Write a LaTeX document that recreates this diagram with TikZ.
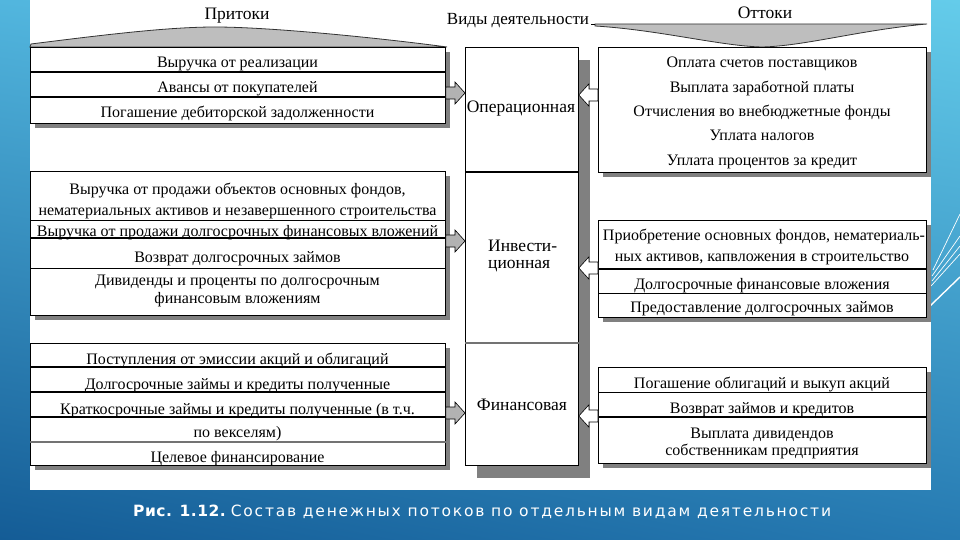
\documentclass[tikz,border=0pt]{standalone}
\usepackage{fontspec}
\setmainfont{Liberation Serif}
\newfontfamily\capfontbold[LetterSpace=3]{DejaVu Sans}
\newfontfamily\capfont[LetterSpace=11.5]{DejaVu Sans}
\usetikzlibrary{shadows,calc,shadings}
\definecolor{shad}{RGB}{128,128,128}
\definecolor{bgUL}{RGB}{82,182,222}
\definecolor{bgUR}{RGB}{100,204,234}
\definecolor{bgLL}{RGB}{20,92,150}
\definecolor{bgLR}{RGB}{38,122,178}
\definecolor{moundgray}{RGB}{190,190,190}
\tikzset{
  box/.style={draw=black, line width=0.8pt, fill=white, inner sep=0pt, anchor=north west},
  sh/.style={drop shadow={shadow xshift=#1, shadow yshift=-#1, fill=shad, opacity=1}},
  txt/.style={font=\fontsize{16}{17}\selectfont, inner sep=0pt, anchor=base},
  clabel/.style={font=\fontsize{17.5}{18}\selectfont, inner sep=0pt, anchor=base},
  head/.style={font=\fontsize{17.5}{18}\selectfont, inner sep=0pt, anchor=base},
  thickdiv/.style={line width=1.6pt},
  thindiv/.style={line width=0.8pt},
  graydiv/.style={line width=1.4pt, draw=black!55},
  garrow/.style={draw=black, line width=0.6pt, fill=black!30},
  warrow/.style={draw=black, line width=0.6pt, fill=white},
  mound/.style={fill=moundgray, draw=black!80, line width=0.8pt},
  deco/.style={draw=white, line width=0.7pt},
}
\newcommand\arrowR[3]{\draw[#3] let \p1=(#1), \p2=(#2), \n1={\x2-10pt} in
  (\x1,\y1+6pt) -- (\n1,\y1+6pt) -- (\n1,\y1+11pt) -- (\x2,\y1)
  -- (\n1,\y1-11pt) -- (\n1,\y1-6pt) -- (\x1,\y1-6pt) -- cycle;}
\newcommand\arrowL[3]{\draw[#3] let \p1=(#1), \p2=(#2), \n1={\x2+10pt} in
  (\x1,\y1+6pt) -- (\n1,\y1+6pt) -- (\n1,\y1+11pt) -- (\x2,\y1)
  -- (\n1,\y1-11pt) -- (\n1,\y1-6pt) -- (\x1,\y1-6pt) -- cycle;}
\begin{document}
\begin{tikzpicture}[x=1pt,y=-1pt]
\useasboundingbox (0,0) rectangle (960,540);
% background
\shade[upper left=bgUL, upper right=bgUR, lower left=bgLL, lower right=bgLR] (0,0) rectangle (960,540);
\fill[white] (30,0) rectangle (931,490);
% decorative lines
\draw[deco] (933,270) -- (960,214);
\draw[deco] (932,276) -- (960,236);
\draw[deco] (932,281) -- (960,246);
\draw[deco] (931,286) -- (960,254);
\draw[deco, line width=1.4pt] (930,306) -- (960,277);

% headers
\node[head] (inflow) at (237,20) {Притоки};
\node[head] (outflow) at (765,19) {Оттоки};
\node[head, font=\fontsize{17}{18}\selectfont] (kinds) at (518,25) {Виды деятельности};
\filldraw[mound] (30,47) -- (31,44) .. controls (110,34) and (170,27) .. (215,27)
  .. controls (270,27) and (380,38) .. (447,47) -- cycle;
\filldraw[mound] (595,24) -- (927,24) .. controls (860,30) and (805,46) .. (762,47)
  .. controls (720,46) and (660,30) .. (595,26) -- cycle;
\draw[line width=0.8pt] (kinds.base east) ++(2,-1) -- (595,24);

% boxes
\node[box, sh=5pt, minimum width=415pt, minimum height=76pt] (opL) at (30,47) {};
\node[box, sh=5pt, minimum width=415pt, minimum height=144pt] (invL) at (30,171) {};
\node[box, sh=5pt, minimum width=415pt, minimum height=122pt] (finL) at (30,343) {};
\node[box, sh=5pt, minimum width=328pt, minimum height=125pt] (opR) at (598,47) {};
\node[box, sh=5pt, minimum width=328pt, minimum height=97pt] (invR) at (598,220) {};
\node[box, sh=5pt, minimum width=328pt, minimum height=96pt] (finR) at (598,367) {};
\node[box, drop shadow={shadow xshift=12pt, shadow yshift=-13pt, fill=shad, opacity=1},
  minimum width=113pt, minimum height=418pt] (col) at (465,47) {};

% dividers
\draw[thickdiv] (opL.west |- 0,72) -- (opL.east |- 0,72);
\draw[thickdiv] (opL.west |- 0,97) -- (opL.east |- 0,97);
\draw[thindiv] (invL.west |- 0,220) -- (invL.east |- 0,220);
\draw[thickdiv] (invL.west |- 0,238) -- (invL.east |- 0,238);
\draw[thindiv] (invL.west |- 0,268) -- (invL.east |- 0,268);
\draw[thickdiv] (finL.west |- 0,367) -- (finL.east |- 0,367);
\draw[thickdiv] (finL.west |- 0,392) -- (finL.east |- 0,392);
\draw[thickdiv] (finL.west |- 0,417) -- (finL.east |- 0,417);
\draw[graydiv] (finL.west |- 0,442) -- (finL.east |- 0,442);
\draw[thickdiv] (invR.west |- 0,269) -- (invR.east |- 0,269);
\draw[thindiv] (invR.west |- 0,293) -- (invR.east |- 0,293);
\draw[thindiv] (finR.west |- 0,392) -- (finR.east |- 0,392);
\draw[thickdiv] (finR.west |- 0,417) -- (finR.east |- 0,417);
\draw[thickdiv] (col.west |- 0,172) -- (col.east |- 0,172);
\draw[graydiv] (col.west |- 0,343) -- (col.east |- 0,343);

% center labels
\node[clabel] (lop) at (521,113) {Операционная};
\node[clabel, anchor=base west] (linv1) at (488,251) {Инвести-};
\node[clabel, anchor=base west] (linv2) at (488,268) {ционная};
\node[clabel] (lfin) at (522,410) {Финансовая};

% left texts
\node[txt] (l1) at (237.5,68) {Выручка от реализации};
\node[txt] (l2) at (237.5,93) {Авансы от покупателей};
\node[txt] (l3) at (237.5,118) {Погашение дебиторской задолженности};
\node[txt] (l4) at (237.5,194) {Выручка от продажи объектов основных фондов,};
\node[txt] (l5) at (237.5,215) {нематериальных активов и незавершенного строительства};
\node[txt] (l6) at (237.5,236) {Выручка от продажи долгосрочных финансовых вложений};
\node[txt] (l7) at (237.5,262) {Возврат долгосрочных займов};
\node[txt] (l8) at (237.5,285) {Дивиденды и проценты по долгосрочным};
\node[txt] (l9) at (237.5,303) {финансовым вложениям};
\node[txt] (l10) at (237.5,364) {Поступления от эмиссии акций и облигаций};
\node[txt] (l11) at (237.5,389) {Долгосрочные займы и кредиты полученные};
\node[txt] (l12) at (237.5,414) {Краткосрочные займы и кредиты полученные (в т.ч.};
\node[txt] (l13) at (237.5,437) {по векселям)};
\node[txt] (l14) at (237.5,462) {Целевое финансирование};

% right texts
\node[txt] (r1) at (762,68) {Оплата счетов поставщиков};
\node[txt] (r2) at (762,93) {Выплата заработной платы};
\node[txt] (r3) at (762,117) {Отчисления во внебюджетные фонды};
\node[txt] (r4) at (762,141) {Уплата налогов};
\node[txt] (r5) at (762,166) {Уплата процентов за кредит};
\node[txt] (r6) at (764,240) {Приобретение основных фондов, нематериаль-};
\node[txt] (r7) at (762,261) {ных активов, капвложения в строительство};
\node[txt] (r8) at (762,289) {Долгосрочные финансовые вложения};
\node[txt] (r9) at (762,312) {Предоставление долгосрочных займов};
\node[txt] (r10) at (762,388) {Погашение облигаций и выкуп акций};
\node[txt] (r11) at (762,413) {Возврат займов и кредитов};
\node[txt] (r12) at (762,438) {Выплата дивидендов};
\node[txt] (r13) at (762,455) {собственникам предприятия};

% arrows
\coordinate (y1) at (0,93);
\coordinate (y2) at (0,241);
\coordinate (y3) at (0,413);
\coordinate (y4) at (0,95);
\coordinate (y5) at (0,268);
\coordinate (y6) at (0,416);
\arrowR{opL.east |- y1}{col.west |- y1}{garrow}
\arrowR{invL.east |- y2}{col.west |- y2}{garrow}
\arrowR{finL.east |- y3}{col.west |- y3}{garrow}
\arrowL{opR.west |- y4}{col.east |- y4}{warrow}
\arrowL{invR.west |- y5}{col.east |- y5}{warrow}
\arrowL{finR.west |- y6}{col.east |- y6}{warrow}

% caption
\node[text=white, inner sep=0pt, anchor=base west, font=\fontsize{15.5}{17}\selectfont] (cap) at (133,516)
  {{\capfontbold\bfseries Рис. 1.12.} {\capfont Состав денежных потоков по отдельным видам деятельности}};
\end{tikzpicture}
\end{document}
